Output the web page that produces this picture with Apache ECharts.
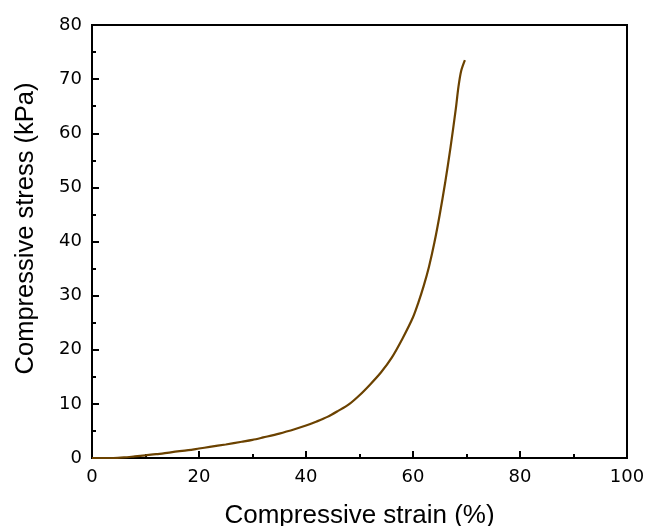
<!DOCTYPE html>
<html><head><meta charset="utf-8">
<script src="https://cdn.jsdelivr.net/npm/echarts@6/dist/echarts.min.js"></script>
<style>html,body{margin:0;padding:0;background:#fff}#c{width:645px;height:526px}</style>
</head><body><div id="c"></div>
<script>
const strain = [0,4,6,8,10,12,15,18,20,22,25,28,30,32,35,38,40,42,44,46,48,50,52,54,56,58,60,61,62,63,64,65,66,67,68,68.5,69,69.7];
const stress = [0,0,0.1,0.3,0.5,0.7,1.1,1.45,1.75,2.05,2.5,3.0,3.35,3.8,4.5,5.35,6.0,6.75,7.6,8.7,9.9,11.6,13.6,15.8,18.5,22.0,26.0,28.7,31.8,35.4,39.8,45.0,50.8,57.3,64.5,68.6,71.5,73.5];
const xTitle = 'Compressive strain (%)';
const yTitle = 'Compressive stress (kPa)';

const chart = echarts.init(document.getElementById('c'));
const font = 'Liberation Sans, Arial, sans-serif';
const tickFont = 'DejaVu Sans, sans-serif';
chart.setOption({
  animation: false,
  grid: {left: 92, right: 18, top: 25, bottom: 68, outerBoundsMode: 'none', containLabel: false, show: true, borderColor: '#000', borderWidth: 2, backgroundColor: 'transparent'},
  xAxis: {
    type: 'value', min: 0, max: 100, interval: 20,
    name: xTitle, nameLocation: 'middle', nameGap: 45,
    nameTextStyle: {fontFamily: font, fontSize: 26, color: '#000'},
    axisLine: {show: true, lineStyle: {color: '#000', width: 2}},
    axisTick: {show: true, inside: true, length: 7, lineStyle: {color: '#000', width: 2}},
    minorTick: {show: true, splitNumber: 2, length: 4, lineStyle: {color: '#000', width: 2}},
    axisLabel: {fontFamily: tickFont, fontSize: 18, color: '#000', margin: 10},
    splitLine: {show: false}
  },
  yAxis: {
    type: 'value', min: 0, max: 80, interval: 10,
    name: yTitle, nameLocation: 'middle', nameGap: 53,
    nameTextStyle: {fontFamily: font, fontSize: 25.5, color: '#000', padding: [0, 0, 0, 26]},
    axisLine: {show: true, lineStyle: {color: '#000', width: 2}},
    axisTick: {show: true, inside: true, length: 7, lineStyle: {color: '#000', width: 2}},
    minorTick: {show: true, splitNumber: 2, length: 4, lineStyle: {color: '#000', width: 2}},
    axisLabel: {fontFamily: tickFont, fontSize: 18, color: '#000', margin: 10},
    splitLine: {show: false}
  },
  series: [{
    type: 'line', smooth: 0.3, showSymbol: false,
    data: strain.map((s, i) => [s, stress[i]]),
    lineStyle: {color: '#6b4200', width: 2.2},
    itemStyle: {color: '#6b4200'}
  }]
});
</script></body></html>
